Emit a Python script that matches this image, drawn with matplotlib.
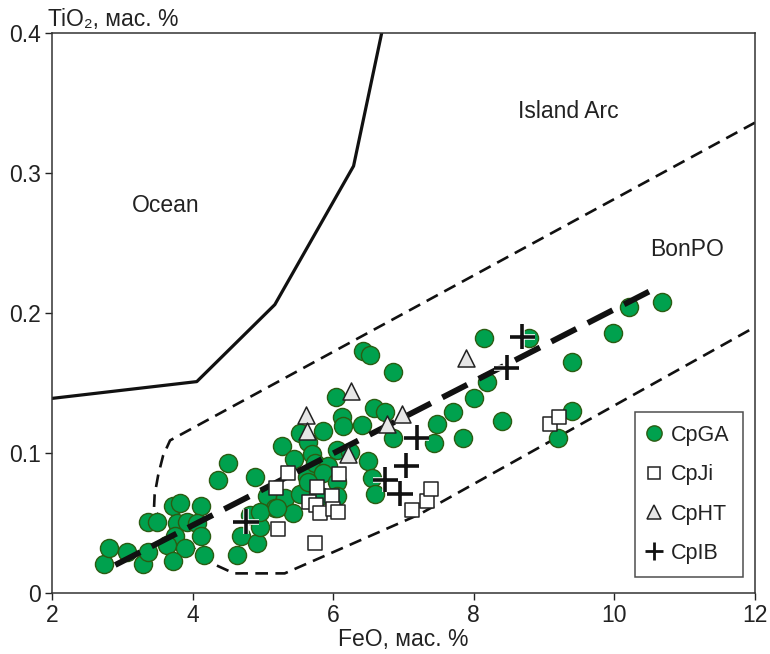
import matplotlib
matplotlib.use("Agg")
import matplotlib.pyplot as plt
import matplotlib.patheffects as pe
from matplotlib.lines import Line2D

plt.rcParams['font.family'] = ['Liberation Sans', 'DejaVu Sans']

# CpGA (circles)
ga_feo = [2.74, 2.81, 3.07, 3.29, 3.37, 3.37, 3.49, 3.72, 3.82, 4.12,
          3.78, 3.92, 4.06, 3.75, 3.64, 3.89, 3.72, 4.12, 4.16, 4.50,
          4.36, 4.63, 4.69, 4.89, 4.82, 4.92, 4.96, 5.06, 5.17, 5.27,
          5.44, 5.53, 5.64, 5.86, 6.04, 6.13, 6.14, 6.41, 6.58, 6.74,
          6.85, 5.70, 6.05, 6.24, 6.50, 6.55, 6.60, 5.31, 5.43, 5.63,
          5.74, 5.93, 5.86, 6.05, 5.81, 6.05, 4.96, 5.20, 5.53, 5.64,
          6.42, 6.52, 6.85, 8.15, 8.79, 9.40, 8.19, 8.00, 7.70, 7.48,
          7.43, 7.85, 8.40, 9.40, 9.20, 9.98, 10.21, 10.68]
ga_tio2 = [0.021, 0.032, 0.029, 0.021, 0.029, 0.051, 0.051, 0.062, 0.064, 0.062,
           0.050, 0.051, 0.050, 0.041, 0.034, 0.032, 0.023, 0.041, 0.027, 0.093,
           0.081, 0.027, 0.041, 0.083, 0.056, 0.036, 0.047, 0.069, 0.061, 0.105,
           0.096, 0.114, 0.108, 0.116, 0.140, 0.126, 0.119, 0.120, 0.132, 0.129,
           0.111, 0.099, 0.102, 0.101, 0.094, 0.082, 0.071, 0.068, 0.057, 0.083,
           0.093, 0.091, 0.086, 0.079, 0.069, 0.069, 0.058, 0.061, 0.071, 0.079,
           0.173, 0.170, 0.158, 0.182, 0.182, 0.165, 0.151, 0.139, 0.129, 0.121,
           0.107, 0.111, 0.123, 0.130, 0.111, 0.186, 0.204, 0.208]

# CpJi (squares)
ji_feo = [5.36, 5.19, 5.77, 6.08, 5.66, 5.76, 5.81, 5.98, 6.00, 6.07,
          5.22, 5.74, 7.12, 7.33, 7.39, 9.08, 9.21]
ji_tio2 = [0.086, 0.075, 0.076, 0.085, 0.065, 0.063, 0.057, 0.069, 0.060, 0.058,
           0.046, 0.036, 0.059, 0.066, 0.074, 0.121, 0.126]

# CpHT (triangles)
ht_feo = [6.25, 5.61, 5.63, 6.77, 6.98, 6.21, 7.89]
ht_tio2 = [0.144, 0.127, 0.116, 0.121, 0.128, 0.099, 0.168]

# CpIB (crosses)
ib_feo = [4.76, 6.74, 6.95, 7.04, 7.19, 8.47, 8.69]
ib_tio2 = [0.051, 0.081, 0.071, 0.091, 0.111, 0.161, 0.183]

# field boundaries
ocean_x = [2.0, 4.06, 5.17, 6.29, 6.69]
ocean_y = [0.139, 0.151, 0.206, 0.305, 0.40]
bon_x = [12.0, 3.68, 3.58, 3.51, 3.46, 3.45, 3.84, 4.24, 4.59, 5.31, 7.22, 12.0]
bon_y = [0.336, 0.109, 0.098, 0.084, 0.070, 0.059, 0.040, 0.022, 0.014, 0.014, 0.056, 0.190]
trend_x = [2.9, 10.52]
trend_y = [0.020, 0.216]

labels = ['CpGA', 'CpJi', 'CpHT', 'CpIB']

fig = plt.figure(figsize=(7.7, 6.54), dpi=100)
ax = fig.add_axes([0.0675, 0.0933, 0.913, 0.8562])

ax.plot(ocean_x, ocean_y, color='#111111', lw=2.3, zorder=1)
ax.plot(bon_x, bon_y, color='#111111', lw=1.9, dashes=(4.8, 2.8), zorder=1)

ax.scatter(ga_feo, ga_tio2, s=170, marker='o', facecolor='#00a14e',
           edgecolor='#2b5c12', linewidths=1.0, zorder=2)

ax.plot(trend_x, trend_y, color='#111111', lw=4.2, dashes=(4.8, 2.2),
        dash_capstyle='butt', zorder=3)

ax.scatter(ji_feo, ji_tio2, s=105, marker='s', facecolor='white',
           edgecolor='#222222', linewidths=1.1, zorder=4)
ax.scatter(ht_feo, ht_tio2, s=150, marker='^', facecolor='#e6e6e6',
           edgecolor='#222222', linewidths=1.1, zorder=4)
ib = ax.scatter(ib_feo, ib_tio2, s=330, marker='+', color='#111111',
                linewidths=2.6, zorder=5)
ib.set_path_effects([pe.Stroke(linewidth=4.0, foreground='white'), pe.Normal()])

ax.text(3.62, 0.277, 'Ocean', fontsize=16.5, color='#222222', ha='center', va='center')
ax.text(9.34, 0.3436, 'Island Arc', fontsize=16.5, color='#222222', ha='center', va='center')
ax.text(11.03, 0.2457, 'BonPO', fontsize=16.5, color='#222222', ha='center', va='center')

ax.set_xlim(2, 12)
ax.set_ylim(0, 0.4)
ax.set_xticks([2, 4, 6, 8, 10, 12])
ax.set_yticks([0, 0.1, 0.2, 0.3, 0.4])
ax.set_yticklabels(['0', '0.1', '0.2', '0.3', '0.4'])
ax.tick_params(direction='out', length=5, width=1, labelsize=16.5,
               colors='#222222', pad=3)
for sp in ax.spines.values():
    sp.set_color('#333333')
    sp.set_linewidth(1.1)

ax.set_xlabel('FeO, мас. %', fontsize=16.5, color='#222222', labelpad=1)
ax.text(-0.006, 1.025, 'TiO₂, мас. %', transform=ax.transAxes, fontsize=16.5,
        color='#222222', ha='left', va='center', clip_on=False)

handles = [
    Line2D([], [], ls='none', marker='o', ms=11, mfc='#00a14e', mec='#2b5c12', mew=1),
    Line2D([], [], ls='none', marker='s', ms=9, mfc='white', mec='#222222', mew=1.1),
    Line2D([], [], ls='none', marker='^', ms=10, mfc='#e6e6e6', mec='#222222', mew=1.1),
    Line2D([], [], ls='none', marker='+', ms=13, color='#111111', mew=2),
]
leg = ax.legend(handles, labels, loc='upper left', bbox_to_anchor=(0.829, 0.323),
                fontsize=15.5, frameon=True, fancybox=False, borderpad=0.6,
                labelspacing=0.85, handlelength=0.6, handletextpad=0.5,
                borderaxespad=0)
leg.get_frame().set_edgecolor('#222222')
leg.get_frame().set_linewidth(1.1)
for t in leg.get_texts():
    t.set_color('#222222')

fig.savefig('out.png', dpi=100)
